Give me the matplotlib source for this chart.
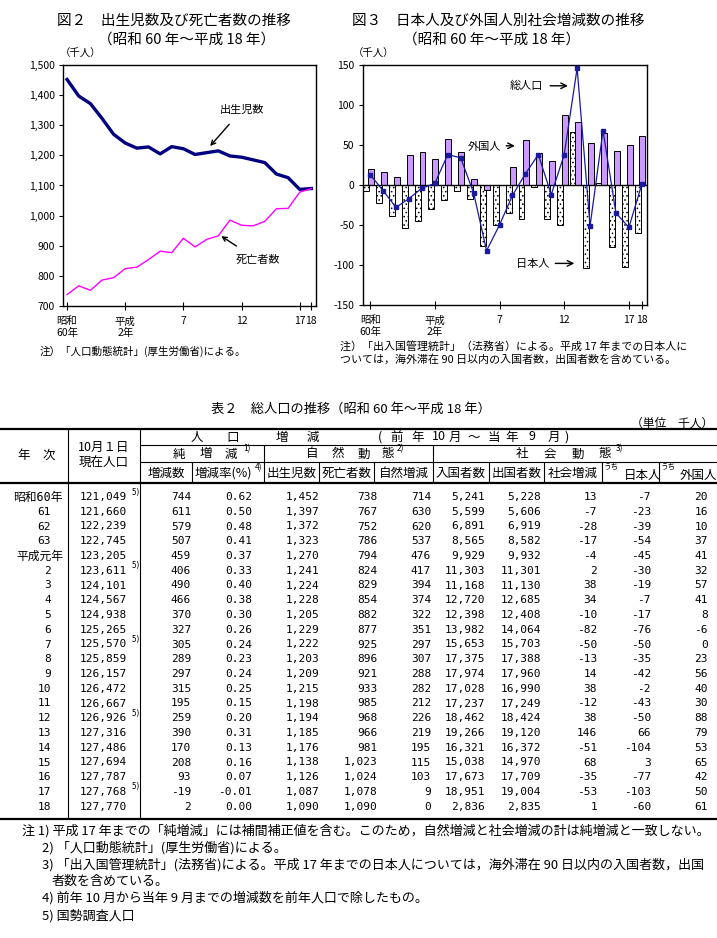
import matplotlib
matplotlib.use('Agg')
import matplotlib.pyplot as plt
import numpy as np

plt.rcParams['font.family'] = ['Noto Sans CJK JP', 'DejaVu Sans']
plt.rcParams['hatch.linewidth'] = 0.6

# ---------------- data ----------------
years = ["昭和60年", "61", "62", "63", "平成元年"] + [str(i) for i in range(2, 19)]
population = [121049, 121660, 122239, 122745, 123205, 123611, 124101, 124567, 124938, 125265,
              125570, 125859, 126157, 126472, 126667, 126926, 127316, 127486, 127694, 127787,
              127768, 127770]
census_rows = ["昭和60年", "2", "7", "12", "17"]
net_change = [744, 611, 579, 507, 459, 406, 490, 466, 370, 327, 305, 289, 297, 315, 195, 259,
              390, 170, 208, 93, -19, 2]
net_rate = [0.62, 0.50, 0.48, 0.41, 0.37, 0.33, 0.40, 0.38, 0.30, 0.26, 0.24, 0.23, 0.24, 0.25,
            0.15, 0.20, 0.31, 0.13, 0.16, 0.07, -0.01, 0.00]
births = [1452, 1397, 1372, 1323, 1270, 1241, 1224, 1228, 1205, 1229, 1222, 1203, 1209, 1215,
          1198, 1194, 1185, 1176, 1138, 1126, 1087, 1090]
deaths = [738, 767, 752, 786, 794, 824, 829, 854, 882, 877, 925, 896, 921, 933, 985, 968, 966,
          981, 1023, 1024, 1078, 1090]
natural = [714, 630, 620, 537, 476, 417, 394, 374, 322, 351, 297, 307, 288, 282, 212, 226, 219,
           195, 115, 103, 9, 0]
entries = [5241, 5599, 6891, 8565, 9929, 11303, 11168, 12720, 12398, 13982, 15653, 17375, 17974,
           17028, 17237, 18462, 19266, 16321, 15038, 17673, 18951, 2836]
exits = [5228, 5606, 6919, 8582, 9932, 11301, 11130, 12685, 12408, 14064, 15703, 17388, 17960,
         16990, 17249, 18424, 19120, 16372, 14970, 17709, 19004, 2835]
social = [13, -7, -28, -17, -4, 2, 38, 34, -10, -82, -50, -13, 14, 38, -12, 38, 146, -51, 68,
          -35, -53, 1]
japanese = [-7, -23, -39, -54, -45, -30, -19, -7, -17, -76, -50, -35, -42, -2, -43, -50, 66,
            -104, 3, -77, -103, -60]
foreign = [20, 16, 10, 37, 41, 32, 57, 41, 8, -6, 0, 23, 56, 40, 30, 88, 79, 53, 65, 42, 50, 61]

xtick_idx = [0, 5, 10, 15, 20, 21]
xtick_labels = ["昭和\n60年", "平成\n2年", "7", "12", "17", "18"]

# ---------------- figure ----------------
W, H = 717, 938
fig = plt.figure(figsize=(W / 100, H / 100), dpi=100)
x = np.arange(len(years))

def style_axes(ax):
    for s in ax.spines.values():
        s.set_linewidth(1.0)
        s.set_color('black')
    ax.set_xticks(xtick_idx)
    ax.set_xticklabels(xtick_labels, fontsize=7.5)
    for t in ax.get_xticklabels():
        t.set_linespacing(1.2)
    ax.tick_params(axis='x', direction='inout', length=6, width=0.8, pad=4.5)
    ax.tick_params(axis='y', direction='out', length=3, width=0.8, labelsize=7.5, pad=3)

# ---- Figure 2 ----
ax2 = fig.add_axes([63 / W, 1 - 306 / H, 253 / W, 241 / H])
ax2.plot(x, births, color='#000080', lw=2.4, solid_joinstyle='round')
ax2.plot(x, deaths, color='#FF00FF', lw=1.0)
ax2.set_xlim(-0.35, 21.4)
ax2.set_ylim(700, 1500)
yt2 = list(range(700, 1501, 100))
ax2.set_yticks(yt2)
ax2.set_yticklabels([f"{v:,}" for v in yt2])
style_axes(ax2)
ax2.annotate("出生児数", xy=(12.3, 1231), xytext=(15.0, 1350), fontsize=8,
             ha='center', va='center',
             arrowprops=dict(arrowstyle='->', lw=1.0, color='black', shrinkA=6, shrinkB=0))
ax2.annotate("死亡者数", xy=(13.25, 932), xytext=(16.4, 853), fontsize=8,
             ha='center', va='center',
             arrowprops=dict(arrowstyle='->', lw=1.0, color='black', shrinkA=8, shrinkB=0))

# ---- Figure 3 ----
ax3 = fig.add_axes([363 / W, 1 - 305 / H, 284 / W, 240 / H])
ax3.bar(x - 0.3, japanese, width=0.46, facecolor='white', edgecolor='black', hatch='....',
        lw=0.7, zorder=2)
ax3.bar(x + 0.05, foreign, width=0.46, facecolor='#CC99FF', edgecolor='black', lw=0.7, zorder=2)
ax3.axhline(0, color='black', lw=1.0, zorder=3)
ax3.plot(x, social, color='#1a1aa0', lw=0.9, marker='s', ms=3, zorder=4)
ax3.set_xlim(-0.55, 21.4)
ax3.set_ylim(-150, 150)
yt3 = list(range(-150, 151, 50))
ax3.set_yticks(yt3)
ax3.set_yticklabels([str(v) for v in yt3])
style_axes(ax3)
arrow_kw = dict(arrowstyle='->', lw=1.0, color='black')
ax3.text(12.1, 124, "総人口", fontsize=8, ha='center', va='center')
ax3.annotate("", xy=(15.5, 124), xytext=(13.7, 124), arrowprops=arrow_kw)
ax3.text(8.8, 48, "外国人", fontsize=8, ha='center', va='center')
ax3.annotate("", xy=(11.4, 49), xytext=(10.3, 49), arrowprops=arrow_kw)
ax3.text(12.6, -99, "日本人", fontsize=8, ha='center', va='center')
ax3.annotate("", xy=(16.0, -98), xytext=(14.1, -98), arrowprops=arrow_kw)

# ---------------- overlay for titles, notes, table ----------------
ov = fig.add_axes([0, 0, 1, 1])
ov.set_xlim(0, W)
ov.set_ylim(H, 0)
ov.axis('off')

def T(px, py, s, size=8, ha='left', va='center', **kw):
    ov.text(px, py, s, fontsize=size, ha=ha, va=va, **kw)

# chart titles
T(57, 21, "図２　出生児数及び死亡者数の推移", 10.5)
T(98, 40, "（昭和 60 年～平成 18 年）", 10.5)
T(60, 54, "（千人）", 7.5)
T(40, 351, "注）「人口動態統計」(厚生労働省)による。", 7.6)

T(352, 21, "図３　日本人及び外国人別社会増減数の推移", 10.5)
T(403, 40, "（昭和 60 年～平成 18 年）", 10.5)
T(353, 54, "（千人）", 7.5)
T(340, 346, "注）「出入国管理統計」（法務省）による。平成 17 年までの日本人に", 7.9)
T(340, 359, "ついては，海外滞在 90 日以内の入国者数，出国者数を含めている。", 7.9)

# table title
T(351, 409, "表２　総人口の推移（昭和 60 年～平成 18 年）", 9.5, ha='center')
T(713, 423, "（単位　千人）", 8.5, ha='right')

# table lines
def hline(y, x0, x1, lw=0.8):
    ov.plot([x0, x1], [y, y], color='black', lw=lw, solid_capstyle='butt')

def vline(xp, y0, y1, lw=0.8):
    ov.plot([xp, xp], [y0, y1], color='black', lw=lw, solid_capstyle='butt')

hline(429, 0, 717, 1.6)
hline(445, 140, 717)
hline(462, 140, 717)
hline(483, 0, 717, 1.6)
hline(819, 0, 717, 1.6)
vline(68, 429, 819)
vline(140, 429, 819)
for xp in [264, 433]:
    vline(xp, 445, 483)
for xp in [192, 319, 374, 489, 544, 602, 659]:
    vline(xp, 462, 483)

HS = 9
# header
T(37, 455, "年　次", HS, ha='center')
T(104, 447, "10月１日", HS, ha='center')
T(104, 463, "現在人口", HS, ha='center')
for ch, xp in [("人", 197), ("口", 233), ("増", 282), ("減", 313), ("(", 380), ("前", 397),
               ("年", 418), ("10", 439), ("月", 455), ("～", 474), ("当", 494), ("年", 512),
               ("9", 532), ("月", 554), (")", 567)]:
    T(xp, 437, ch, HS, ha='center')
for ch, xp in [("純", 179), ("増", 206), ("減", 231), ("自", 312), ("然", 338), ("動", 364),
               ("態", 388), ("社", 522), ("会", 550), ("動", 578), ("態", 605)]:
    T(xp, 454, ch, HS, ha='center')
for s, xp in [("1)", 247), ("2)", 400), ("3)", 619)]:
    T(xp, 449, s, 6, ha='center')
cols = [("増減数", 166), ("出生児数", 291.5), ("死亡者数", 346.5), ("自然増減", 403.5),
        ("入国者数", 461), ("出国者数", 516.5), ("社会増減", 573)]
for s, xp in cols:
    T(xp, 473, s, HS, ha='center')
T(223, 473, "増減率(%)", HS, ha='center')
T(259, 468, "4)", 6, ha='center')
T(604, 467, "うち", 5.5)
T(624, 476, "日本人", HS)
T(661, 467, "うち", 5.5)
T(680, 476, "外国人", HS)

# body
mono = ['DejaVu Sans Mono', 'Noto Sans CJK JP']
NS = 8
for i in range(len(years)):
    y = 497 + 14.75 * i
    yl = years[i]
    if yl in ("昭和60年", "平成元年"):
        ov.text(63, y, yl, fontsize=NS + 0.5, ha='right', va='center', family=mono)
    else:
        ov.text(51, y, yl, fontsize=NS, ha='right', va='center', family=mono)
    ov.text(80, y, f"{population[i]:,}", fontsize=NS, ha='left', va='center', family=mono)
    if yl in census_rows:
        ov.text(131, y - 5, "5)", fontsize=5.5, ha='left', va='center', family=mono)
    vals = [(f"{net_change[i]:,}", 191), (f"{net_rate[i]:.2f}", 252), (f"{births[i]:,}", 319),
            (f"{deaths[i]:,}", 377), (f"{natural[i]:,}", 431), (f"{entries[i]:,}", 485),
            (f"{exits[i]:,}", 541), (f"{social[i]:,}", 597), (f"{japanese[i]:,}", 651),
            (f"{foreign[i]:,}", 708)]
    for s, xr in vals:
        ov.text(xr, y, s, fontsize=NS, ha='right', va='center', family=mono)

# footnotes
FS = 9.4
T(22, 831, "注 1) 平成 17 年までの「純増減」には補間補正値を含む。このため，自然増減と社会増減の計は純増減と一致しない。", FS)
T(42, 848, "2) 「人口動態統計」(厚生労働省)による。", FS)
T(42, 865, "3) 「出入国管理統計」(法務省)による。平成 17 年までの日本人については，海外滞在 90 日以内の入国者数，出国", FS)
T(52, 881, "者数を含めている。", FS)
T(42, 898, "4) 前年 10 月から当年 9 月までの増減数を前年人口で除したもの。", FS)
T(42, 916, "5) 国勢調査人口", FS)

fig.savefig("out.png", dpi=100)
